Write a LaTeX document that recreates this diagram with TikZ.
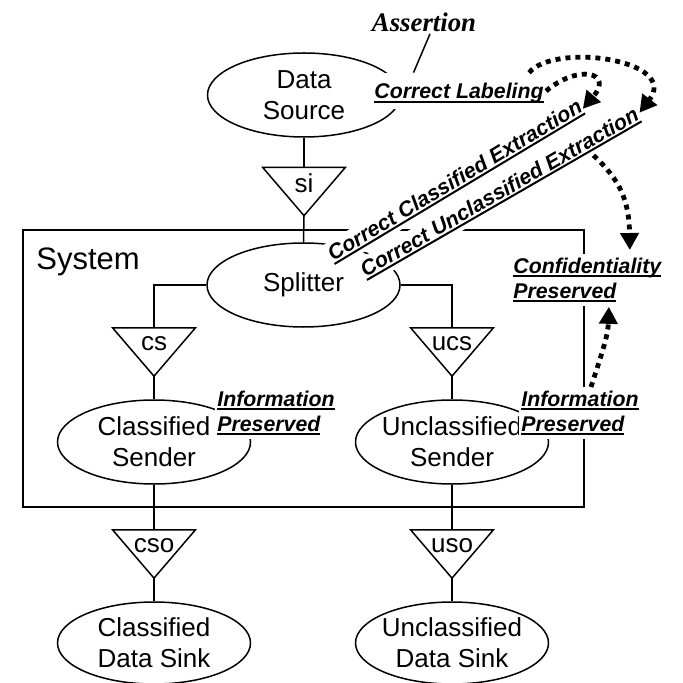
\documentclass[tikz,border=0pt]{standalone}
\usepackage{fontspec}
\setmainfont{Liberation Sans}
\newfontfamily\asfont{Liberation Serif}
\usetikzlibrary{arrows.meta,calc,shapes.geometric}
\newcommand\mainsz{\fontsize{13}{15.5}\selectfont}
\newcommand\labsz{\fontsize{10.65}{12.5}\selectfont\bfseries\itshape}
\newcommand\uln[1]{\setbox0=\hbox{#1}\rlap{\vrule height -0.8pt depth 1.8pt width \wd0}\box0}
\begin{document}
\begin{tikzpicture}[x=0.5pt,y=-0.5pt,
  ln/.style={line width=0.75pt},
  ell/.style={ellipse, draw, line width=0.75pt, minimum width=96.5pt, minimum height=42pt, inner sep=0pt,
    label={[align=center,font=\mainsz]center:#1}},
  tri/.style={minimum width=41pt, minimum height=23.75pt, inner sep=0pt,
    label={[font=\mainsz,yshift=4.25pt]center:#1}},
  lab/.style={fill=white, font=\labsz, align=left, inner xsep=1pt, inner ysep=2pt},
  dots/.style={line width=2.4pt, dash pattern=on 2.5pt off 2.5pt, -{Triangle[length=8.5pt,width=9pt]}},
]
\useasboundingbox (0,0) rectangle (683,683);
% system box
\node[draw, ln, minimum width=280.5pt, minimum height=138.5pt, inner sep=0pt] (sys) at (303.5,368.5) {};
\node[anchor=base west, font=\fontsize{15.5}{18}\selectfont, inner sep=0pt] (systxt) at (36,270) {System};
% components
\node[ell={Data\\Source}] (ds) at (304,95) {};
\node[tri=si] (si) at (304,191.5) {};
\node[ell=Splitter] (split) at (303.5,285) {};
\node[tri=cs] (cs) at (154,352) {};
\node[tri=ucs] (ucs) at (452,352) {};
\node[ell={Classified\\Sender}] (cls) at (154,442) {};
\node[ell={Unclassified\\Sender}] (ucls) at (452,442) {};
\node[tri=cso] (cso) at (154,554) {};
\node[tri=uso] (uso) at (452,554) {};
\node[ell={Classified\\Data Sink}, minimum height=41pt] (csink) at (154,643) {};
\node[ell={Unclassified\\Data Sink}, minimum height=41pt] (usink) at (452,643) {};
\foreach \t in {si,cs,ucs,cso,uso}
  \draw[ln, line join=miter] (\t.north west) -- (\t.north east) -- (\t.south) -- cycle;
% connectors
\draw[ln] (ds.south) -- (si.north);
\draw[ln] (si.south) -- (split.north);
\draw[ln] (split.west) -| (cs.north);
\draw[ln] (split.east) -| (ucs.north);
\draw[ln] (cs.south) -- (cls.north);
\draw[ln] (ucs.south) -- (ucls.north);
\draw[ln] (cls.south) -- (cso.north);
\draw[ln] (ucls.south) -- (uso.north);
\draw[ln] (cso.south) -- (csink.north);
\draw[ln] (uso.south) -- (usink.north);
% assertions
\node[font=\asfont\bfseries\itshape\fontsize{13.4}{16}\selectfont, inner sep=1pt] (asr) at (424,22) {Assertion};
\node[lab, anchor=base west, text height=12pt, text depth=4pt, inner ysep=1pt] (clab) at (372,99) {\uln{Correct Labeling}};
\draw[ln] ([xshift=3pt]asr.south) -- ([xshift=-22.75pt]clab.north);
\node[lab, rotate=31, anchor=south] (cce) at (462.6,193.3) {\uln{Correct Classified Extraction}};
\node[lab, rotate=30, anchor=south] (cue) at (507,205.3) {\uln{Correct Unclassified Extraction}};
\node[lab, anchor=north west] (ipl) at (215,387) {\uln{Information}\\\uln{Preserved}};
\node[lab, anchor=north west] (ipr) at (519,387) {\uln{Information}\\\uln{Preserved}};
\node[lab, anchor=north west] (conf) at (511,254) {\uln{Confidentiality}\\\uln{Preserved}};
% dotted dependencies
\draw[dots] (clab.east) .. controls (578,64) and (614,72) .. ([yshift=-2pt]cce.east);
\draw[dots] ([xshift=-8.5pt]clab.north east) .. controls (555,42) and (680,60) .. (cue.east);
\draw[dots] ($(cue.south west)!0.81!(cue.south east)$) .. controls (620,180) and (629,200) .. ([xshift=21.25pt,yshift=2pt]conf.north);
\draw[dots] ([xshift=5.5pt]ipr.north) .. controls (603,350) and (608,335) .. ([xshift=10.75pt]conf.south);
\end{tikzpicture}
\end{document}
